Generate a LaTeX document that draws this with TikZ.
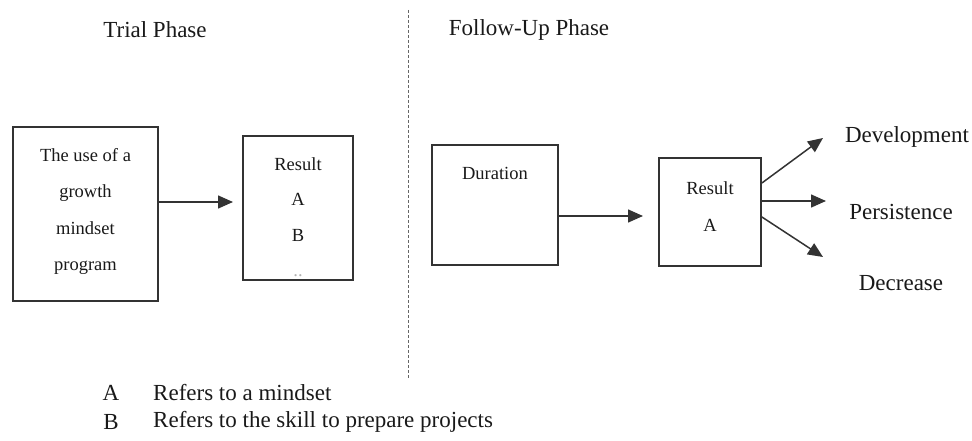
\documentclass[tikz,border=0pt]{standalone}
\usepackage{fontspec}
\setmainfont{Liberation Serif}
\usetikzlibrary{arrows.meta}
\begin{document}
\begin{tikzpicture}[x=1pt,y=-1pt,
  box/.style={draw=black!80, line width=1.8pt, inner sep=0pt},
  boxtext/.style={font=\fontsize{18.5}{36.5}\selectfont, align=center, text=black!90, inner sep=0pt},
  lbl/.style={font=\fontsize{23}{28}\selectfont, text=black!90, inner sep=0pt},
  arr/.style={draw=black!80, line width=1.5pt, -{Triangle[length=15pt,width=13pt]}},
]
\useasboundingbox (0,0) rectangle (972,441);
% titles
\node[lbl] (t1) at (155,30) {Trial Phase};
\node[lbl] (t2) at (529,30) {Follow-Up Phase};
% divider
\coordinate (dtop) at (408,10);
\coordinate (dbot) at (408,378);
\draw[black!60, line width=0.9pt, dash pattern=on 3pt off 2pt] (dtop) -- (dbot);
% trial phase
\node[box, minimum width=145, minimum height=174] (b1) at (85.5,214) {};
\node[boxtext] (b1t) at (85.5,211.5) {The use of a\\growth\\mindset\\program};
\node[box, minimum width=110, minimum height=144] (b2) at (298,208) {};
\node[boxtext, font=\fontsize{18.5}{35.5}\selectfont] (b2t) at (298,217) {Result\\A\\B\\{\color{black!30}..}};
\coordinate (a1e) at (233,202);
\draw[arr] (b1.east |- a1e) -- (a1e);
% follow-up phase
\node[box, minimum width=126, minimum height=120] (b3) at (495,205) {};
\node[boxtext] (b3t) at (495,173) {Duration};
\node[box, minimum width=102, minimum height=108] (b4) at (710,212) {};
\node[boxtext, font=\fontsize{18.5}{37}\selectfont] (b4t) at (710,206.5) {Result\\A};
\coordinate (a2e) at (643,216);
\draw[arr] (b3.east |- a2e) -- (a2e);
% outcomes
\coordinate (o1) at (823,138);
\coordinate (o2) at (826,201);
\coordinate (o3) at (823,257);
\draw[arr] ([yshift=29pt]b4.east) -- (o1);
\draw[arr] ([yshift=11pt]b4.east) -- (o2);
\draw[arr] ([yshift=-5pt]b4.east) -- (o3);
\node[lbl] (dev) at (907,137) {Development};
\node[lbl] (per) at (901,212) {Persistence};
\node[lbl] (dec) at (901,283) {Decrease};
% legend
\node[lbl] (la) at (111,393) {A};
\node[lbl, anchor=west] (lat) at (153,393) {Refers to a mindset};
\node[lbl] (lb) at (111,422) {B};
\node[lbl, anchor=west] (lbt) at (153,422) {Refers to the skill to prepare projects};
\end{tikzpicture}
\end{document}
